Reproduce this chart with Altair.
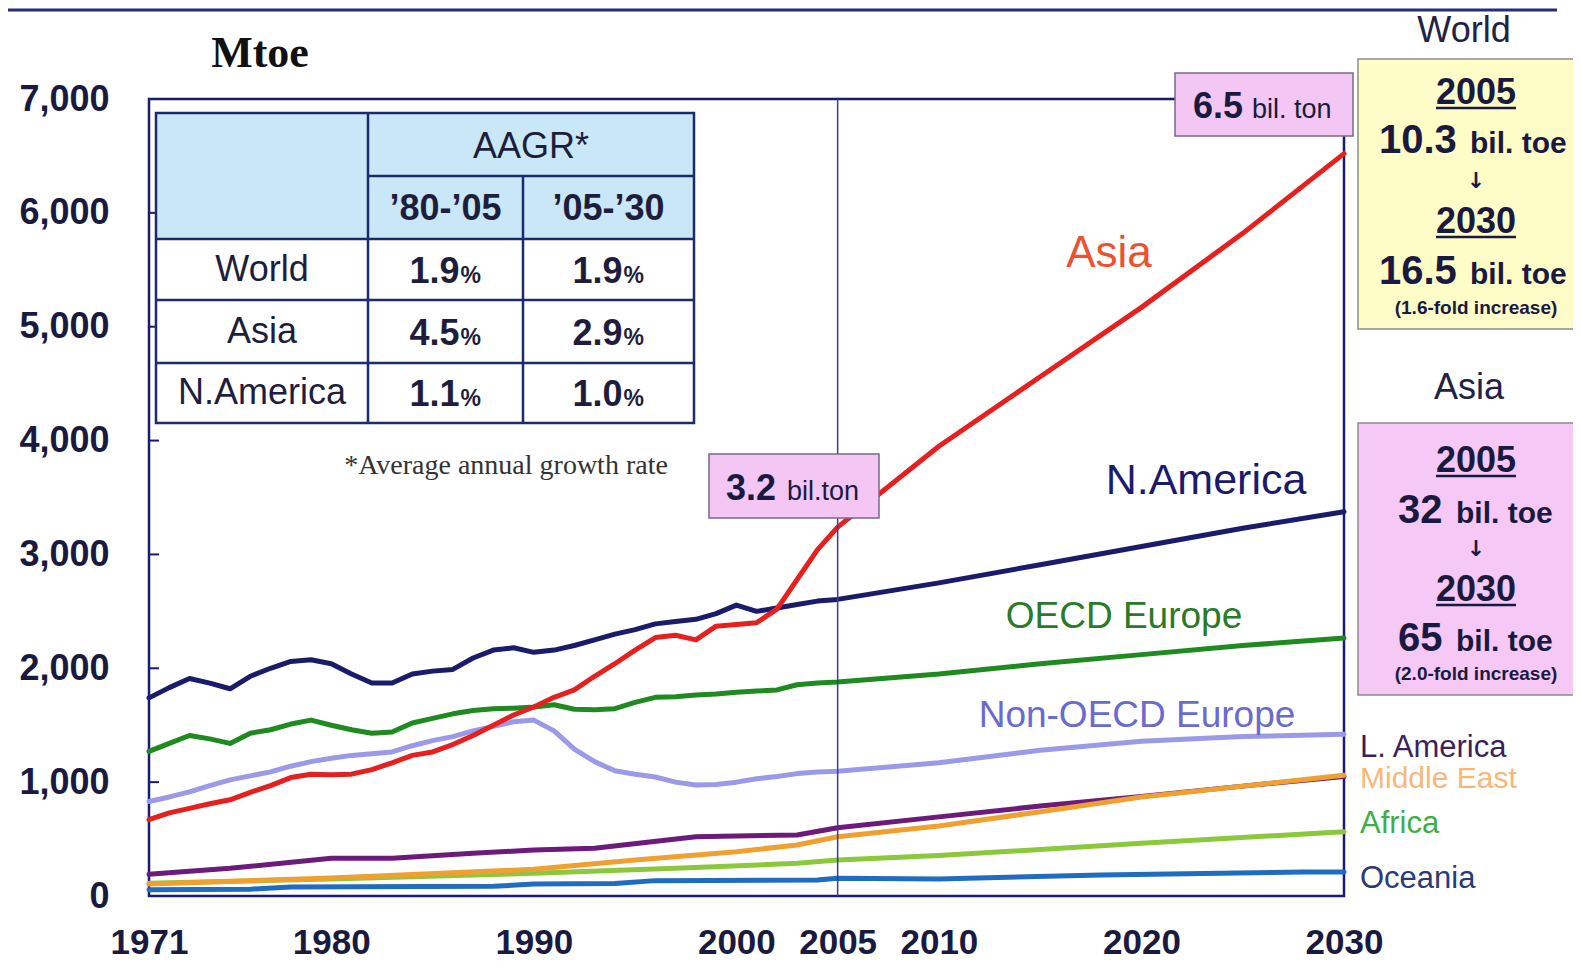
import altair as alt
import pandas as pd

# ---------------- data (Mtoe) ----------------
hist_years = list(range(1971, 2006))
proj_years = [2010, 2015, 2020, 2025, 2030]

n_america_hist = [1740, 1830, 1910, 1870, 1820, 1930, 2000, 2060, 2075, 2040,
                  1950, 1870, 1870, 1950, 1975, 1990, 2090, 2160, 2180, 2140,
                  2160, 2200, 2250, 2300, 2340, 2390, 2410, 2430, 2480, 2555,
                  2500, 2530, 2560, 2590, 2605]
n_america_proj = [2750, 2910, 3070, 3230, 3375]

asia_hist = [670, 730, 770, 810, 845, 910, 970, 1040, 1070, 1065,
             1070, 1110, 1170, 1235, 1265, 1330, 1410, 1500, 1590, 1660,
             1745, 1810, 1930, 2040, 2160, 2270, 2290, 2250, 2370, 2385,
             2400, 2520, 2780, 3040, 3240]
asia_proj = [3950, 4560, 5170, 5820, 6520]

oecd_eu_hist = [1270, 1340, 1410, 1380, 1340, 1430, 1460, 1510, 1545, 1500,
                1460, 1430, 1440, 1520, 1560, 1600, 1630, 1645, 1650, 1660,
                1680, 1640, 1635, 1645, 1700, 1745, 1750, 1765, 1775, 1790,
                1800, 1810, 1855, 1870, 1880]
oecd_eu_proj = [1950, 2040, 2120, 2200, 2265]

non_oecd_eu_hist = [830, 870, 915, 970, 1020, 1055, 1090, 1140, 1180, 1210,
                    1235, 1250, 1265, 1320, 1365, 1400, 1450, 1490, 1530, 1545,
                    1450, 1290, 1180, 1100, 1070, 1045, 1000, 975, 980, 1000,
                    1030, 1050, 1075, 1090, 1095]
non_oecd_eu_proj = [1170, 1280, 1360, 1400, 1420]

la_years = [1971, 1975, 1980, 1983, 1987, 1990, 1993, 1998, 2003, 2005, 2010, 2015, 2020, 2025, 2030]
la_vals = [190, 243, 331, 331, 375, 404, 419, 521, 536, 600, 695, 790, 875, 965, 1050]
me_years = [1971, 1980, 1990, 1995, 2000, 2003, 2005, 2010, 2015, 2020, 2025, 2030]
me_vals = [105, 158, 234, 316, 389, 448, 521, 615, 740, 870, 965, 1060]
af_years = [1971, 1980, 1990, 1997, 2003, 2005, 2010, 2020, 2030]
af_vals = [111, 150, 199, 243, 287, 316, 355, 463, 565]
oc_years = [1971, 1976, 1978, 1988, 1990, 1994, 1996, 2004, 2005, 2010, 2018, 2028, 2030]
oc_vals = [55, 60, 80, 85, 105, 110, 135, 140, 155, 150, 185, 210, 210]

x_ticks = [1971, 1980, 1990, 2000, 2005, 2010, 2020, 2030]
y_ticks = [0, 1000, 2000, 3000, 4000, 5000, 6000, 7000]

table_rows = ["World", "Asia", "N.America"]
table_80_05 = ["1.9", "4.5", "1.1"]
table_05_30 = ["1.9", "2.9", "1.0"]

# ---------------- styles ----------------
NAVY = "#1b1b6b"
INK = "#1a1a40"
SANS = "Liberation Sans"
SERIF = "Liberation Serif"

series = [
    ("Oceania", oc_years, oc_vals, "#1f6cc0"),
    ("Africa", af_years, af_vals, "#8cc83c"),
    ("L. America", la_years, la_vals, "#6c1a7c"),
    ("Middle East", me_years, me_vals, "#f0a030"),
    ("Non-OECD Europe", hist_years + proj_years, non_oecd_eu_hist + non_oecd_eu_proj, "#9a9ae8"),
    ("OECD Europe", hist_years + proj_years, oecd_eu_hist + oecd_eu_proj, "#1f8a1f"),
    ("N.America", hist_years + proj_years, n_america_hist + n_america_proj, NAVY),
    ("Asia", hist_years + proj_years, asia_hist + asia_proj, "#e6201e"),
]

x_scale = alt.Scale(domain=[1971, 2030], nice=False, zero=False)
y_scale = alt.Scale(domain=[0, 7000], nice=False)
x_axis = alt.Axis(values=x_ticks, format="d", labelFont=SANS, labelFontWeight="bold",
                  labelFontSize=35, labelColor=INK, ticks=False, tickSize=0, domain=False,
                  grid=False, labelPadding=46, labelBaseline="middle", labelFlush=False,
                  labelOverlap=False, title=None)
y_axis = alt.Axis(values=y_ticks, format=",d", labelFont=SANS, labelFontWeight="bold",
                  labelFontSize=36, labelColor=INK, ticks=False, tickSize=0, domain=False,
                  grid=False, labelPadding=40, labelBaseline="middle", labelFlush=False,
                  labelOverlap=False, title=None)

layers = []
for name, yrs, vals, col in series:
    df = pd.DataFrame({"year": yrs, "value": vals, "region": name})
    layers.append(
        alt.Chart(df).mark_line(color=col, strokeWidth=5, strokeJoin="round", strokeCap="round").encode(
            x=alt.X("year:Q", scale=x_scale, axis=x_axis),
            y=alt.Y("value:Q", scale=y_scale, axis=y_axis),
        )
    )

# 2005 divider
layers.append(
    alt.Chart(pd.DataFrame({"year": [2005]})).mark_rule(color="#3b3b9b", strokeWidth=1.5).encode(
        x=alt.X("year:Q", scale=x_scale, axis=x_axis)
    )
)
# inward y ticks
layers.append(
    alt.Chart(pd.DataFrame({"value": y_ticks})).mark_rule(color=NAVY, strokeWidth=2).encode(
        y=alt.Y("value:Q", scale=y_scale, axis=y_axis), x=alt.value(0), x2=alt.value(10)
    )
)

# ---------------- annotation helpers (page pixel coords) ----------------
OX, OY = 149, 99
dummy = pd.DataFrame({"k": [0]})


def T(s, X, Y, size, color=INK, weight="normal", font=SANS, align="center", baseline="middle"):
    return alt.Chart(dummy).mark_text(text=s, fontSize=size, color=color, fontWeight=weight,
                                      font=font, align=align, baseline=baseline).encode(
        x=alt.value(X - OX), y=alt.value(Y - OY))


def R(X1, Y1, X2, Y2, fill, stroke="#888888", sw=0, fo=1):
    return alt.Chart(dummy).mark_rect(fill=fill, fillOpacity=fo, stroke=stroke, strokeWidth=sw).encode(
        x=alt.value(X1 - OX), x2=alt.value(X2 - OX), y=alt.value(Y1 - OY), y2=alt.value(Y2 - OY))


def L(X1, Y1, X2, Y2, color=NAVY, sw=2.5):
    return alt.Chart(dummy).mark_rule(color=color, strokeWidth=sw).encode(
        x=alt.value(X1 - OX), x2=alt.value(X2 - OX), y=alt.value(Y1 - OY), y2=alt.value(Y2 - OY))


# top banner line
layers.append(L(8, 10, 1557, 10, "#2a2a7a", 3))

# y-axis unit
layers.append(T("Mtoe", 260, 54, 44, "#111111", "bold", SERIF))

# ---------------- AAGR table ----------------
TB = "#1c2a6e"
tx1, tx2, tx3, tx4 = 156, 368, 523, 694
ty = [113, 176, 239, 300, 363, 423]
layers.append(R(tx1, ty[0], tx4, ty[2], "#c9e7f7"))
layers.append(R(tx1, ty[2], tx4, ty[5], "#ffffff"))
layers.append(L(tx2, ty[1], tx4, ty[1], TB))
for yy in ty[2:5]:
    layers.append(L(tx1, yy, tx4, yy, TB))
layers.append(L(tx2, ty[0], tx2, ty[5], TB))
layers.append(L(tx3, ty[1], tx3, ty[5], TB))
layers.append(R(tx1, ty[0], tx4, ty[5], "#ffffff", TB, 2.5, 0))

layers.append(T("AAGR*", (tx2 + tx4) / 2, 147, 36, "#1e1e3c"))
layers.append(T("\u201980-\u201905", (tx2 + tx3) / 2, 209, 36, "#1e1e3c", "bold"))
layers.append(T("\u201905-\u201930", (tx3 + tx4) / 2, 209, 36, "#1e1e3c", "bold"))
for i, (rn, a, b) in enumerate(zip(table_rows, table_80_05, table_05_30)):
    cy = (ty[i + 2] + ty[i + 3]) / 2
    layers.append(T(rn, (tx1 + tx2) / 2, cy, 36, "#1e1e3c"))
    for val, cx in ((a, (tx2 + tx3) / 2), (b, (tx3 + tx4) / 2)):
        layers.append(T(val, cx + 14, cy + 13, 36, "#1e1e3c", "bold", align="right", baseline="alphabetic"))
        layers.append(T("%", cx + 15, cy + 13, 23, "#1e1e3c", "bold", align="left", baseline="alphabetic"))

layers.append(T("*Average annual growth rate", 506, 466, 28, "#333333", "normal", SERIF))

# ---------------- call-out boxes on the plot ----------------
PINK = "#f3c6f3"
layers.append(R(709, 454, 879, 518, PINK, "#7a6a8a", 1.5))
layers.append(T("3.2", 726, 500, 36, INK, "bold", align="left", baseline="alphabetic"))
layers.append(T("bil.ton", 787, 500, 27, INK, "normal", align="left", baseline="alphabetic"))

layers.append(R(1175, 73, 1353, 136, PINK, "#7a6a8a", 1.5))
layers.append(T("6.5", 1193, 118, 36, INK, "bold", align="left", baseline="alphabetic"))
layers.append(T("bil. ton", 1252, 118, 27, INK, "normal", align="left", baseline="alphabetic"))

# ---------------- series labels ----------------
layers.append(T("Asia", 1109, 254, 44, "#ec5230"))
layers.append(T("N.America", 1206, 481, 43, NAVY))
layers.append(T("OECD Europe", 1124, 617, 37, "#2a7a2a"))
layers.append(T("Non-OECD Europe", 1137, 716, 37, "#6a6ad0"))
layers.append(T("L. America", 1360, 748, 31, "#3c1f5e", align="left"))
layers.append(T("Middle East", 1360, 779, 30, "#f7b77a", align="left"))
layers.append(T("Africa", 1360, 824, 31, "#3fae49", align="left"))
layers.append(T("Oceania", 1360, 879, 31, "#2b3a78", align="left"))

# ---------------- right-hand summary boxes ----------------
CX = 1476
layers.append(T("World", 1464, 31, 36, "#222244"))
layers.append(R(1358, 59, 1590, 329, "#fefdc8", "#8c8c8c", 1.5))
layers.append(T("2005", CX, 104, 36, INK, "bold", baseline="alphabetic"))
layers.append(L(CX - 40, 108, CX + 40, 108, INK, 2.5))
layers.append(T("10.3", 1379, 153, 40, INK, "bold", align="left", baseline="alphabetic"))
layers.append(T("bil. toe", 1470, 153, 30, INK, "bold", align="left", baseline="alphabetic"))
layers.append(T("\u2193", CX, 181, 22, INK, "bold", "DejaVu Sans"))
layers.append(T("2030", CX, 233, 36, INK, "bold", baseline="alphabetic"))
layers.append(L(CX - 40, 237, CX + 40, 237, INK, 2.5))
layers.append(T("16.5", 1379, 284, 40, INK, "bold", align="left", baseline="alphabetic"))
layers.append(T("bil. toe", 1470, 284, 30, INK, "bold", align="left", baseline="alphabetic"))
layers.append(T("(1.6-fold increase)", CX, 314, 19, INK, "bold", baseline="alphabetic"))

layers.append(T("Asia", 1469, 388, 36, "#222244"))
layers.append(R(1358, 423, 1590, 695, "#f5c8f5", "#8c8c8c", 1.5))
layers.append(T("2005", CX, 472, 36, INK, "bold", baseline="alphabetic"))
layers.append(L(CX - 40, 476, CX + 40, 476, INK, 2.5))
layers.append(T("32", 1398, 523, 40, INK, "bold", align="left", baseline="alphabetic"))
layers.append(T("bil. toe", 1456, 523, 30, INK, "bold", align="left", baseline="alphabetic"))
layers.append(T("\u2193", CX, 549, 22, INK, "bold", "DejaVu Sans"))
layers.append(T("2030", CX, 601, 36, INK, "bold", baseline="alphabetic"))
layers.append(L(CX - 40, 605, CX + 40, 605, INK, 2.5))
layers.append(T("65", 1398, 651, 40, INK, "bold", align="left", baseline="alphabetic"))
layers.append(T("bil. toe", 1456, 651, 30, INK, "bold", align="left", baseline="alphabetic"))
layers.append(T("(2.0-fold increase)", CX, 680, 19, INK, "bold", baseline="alphabetic"))

chart = alt.layer(*layers).properties(
    width=1195, height=797,
    padding={"left": 141, "top": 91, "right": 229, "bottom": 65},
    autosize=alt.AutoSizeParams(type="none"),
    background="#ffffff",
).configure_view(stroke=NAVY, strokeWidth=2.5)

chart.save("out.html", embed_options={"renderer": "svg", "actions": False})
